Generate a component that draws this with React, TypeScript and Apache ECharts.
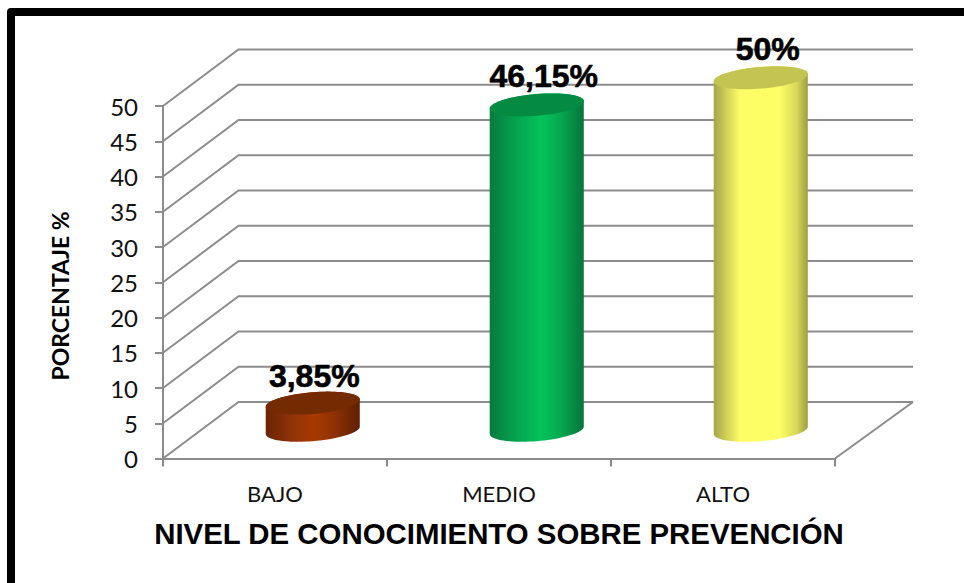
import React, { useEffect, useRef } from "react";
import * as echarts from "echarts";

const categories = ["BAJO", "MEDIO", "ALTO"];
const percentages = [3.85, 46.15, 50];
const valueLabels = ["3,85%", "46,15%", "50%"];
const yTicks = [0, 5, 10, 15, 20, 25, 30, 35, 40, 45, 50];
const xTitle = "NIVEL DE CONOCIMIENTO SOBRE PREVENCIÓN";
const yTitle = "PORCENTAJE %";

const sideStops = [
  [[0, "#6a2403"], [0.3, "#93340a"], [0.5, "#a83a00"], [0.72, "#8f3204"], [1, "#5e2002"]],
  [[0, "#067a3e"], [0.3, "#05a650"], [0.55, "#04c25a"], [0.75, "#05a850"], [1, "#06753b"]],
  [[0, "#a6a64a"], [0.28, "#fdfd66"], [0.7, "#fdfd66"], [0.88, "#d8d85a"], [1, "#9c9c42"]],
];
const topColors = ["#742b02", "#058a42", "#c4c452"];
const labelNudge = [[1.5, -11], [7, -13], [7, -13]];

const GRID_COLOR = "#8c8c8c";
const LINE_WIDTH = 2;
const DEPTH_X = 75.5;
const DEPTH_Y = -56.5;
const RIGHT_DEPTH_X = 78;
const RX = 44.5;
const VX = 15.2;
const VY = -11.5;

function ellipseArc(cx: number, cy: number, from: number, to: number, n: number) {
  const pts: number[][] = [];
  for (let i = 0; i <= n; i++) {
    const t = from + ((to - from) * i) / n;
    pts.push([cx + RX * Math.cos(t) + VX * Math.sin(t), cy + VY * Math.sin(t)]);
  }
  return pts;
}

function renderWall(params: any, api: any) {
  const cs = params.coordSys;
  const y = api.coord([0, api.value(1)])[1];
  const x0 = cs.x;
  const x1 = cs.x + cs.width;
  const children: any[] = [
    {
      type: "polyline",
      shape: { points: [[x0, y], [x0 + DEPTH_X, y + DEPTH_Y], [x1 + RIGHT_DEPTH_X, y + DEPTH_Y]] },
      style: { stroke: GRID_COLOR, lineWidth: LINE_WIDTH, fill: "none" },
    },
  ];
  if (api.value(1) === 0) {
    children.push({
      type: "line",
      shape: { x1: x1, y1: y, x2: x1 + RIGHT_DEPTH_X, y2: y + DEPTH_Y },
      style: { stroke: GRID_COLOR, lineWidth: LINE_WIDTH },
    });
  }
  return { type: "group", children };
}

function renderCylinder(params: any, api: any) {
  const i = api.value(0);
  const top = api.coord([i, api.value(1)]);
  const base = api.coord([i, 0]);
  const cx = top[0] + DEPTH_X / 2;
  const cyTop = top[1] + DEPTH_Y / 2;
  const cyBase = base[1] + DEPTH_Y / 2;
  const t0 = Math.atan2(VX, RX);
  const lower = ellipseArc(cx, cyBase, t0, t0 - Math.PI, 40);
  const lid = ellipseArc(cx, cyTop, 0, Math.PI * 2, 72);
  const side = [...lower, ...ellipseArc(cx, cyTop, t0 - Math.PI, t0 - Math.PI * 2, 40)];
  const stops = sideStops[i].map(([offset, color]) => ({ offset, color }));
  return {
    type: "group",
    children: [
      {
        type: "polygon",
        shape: { points: side },
        style: { fill: new echarts.graphic.LinearGradient(0, 0, 1, 0, stops as any) },
      },
      { type: "polygon", shape: { points: lid }, style: { fill: topColors[i] } },
      {
        type: "text",
        x: cx + labelNudge[i][0],
        y: cyTop + labelNudge[i][1],
        style: {
          text: valueLabels[i],
          fontFamily: "Liberation Sans",
          fontWeight: "bold",
          fontSize: 32,
          fill: "#000000",
          stroke: "#000000",
          lineWidth: 0.6,
          textAlign: "center",
          textVerticalAlign: "bottom",
        },
      },
    ],
  };
}

export default function App() {
  const ref = useRef<HTMLDivElement>(null);
  useEffect(() => {
    const chart = echarts.init(ref.current!, null, { renderer: "svg" });
    chart.setOption({
      animation: false,
      backgroundColor: "#ffffff",
      grid: { left: 163, top: 106, width: 672, height: 352.5 },
      graphic: [
        {
          type: "polyline",
          silent: true,
          z: 10,
          shape: { points: [[11, 590], [11, 12], [970, 12]] },
          style: { stroke: "#000000", lineWidth: 8, fill: "none", lineJoin: "round" },
        },
        {
          type: "text",
          silent: true,
          z: 10,
          x: 60,
          y: 296,
          rotation: Math.PI / 2,
          style: {
            text: yTitle,
            fontFamily: "Lato",
            fontWeight: "bold",
            fontSize: 23,
            fill: "#000000",
            textAlign: "center",
            textVerticalAlign: "middle",
          },
        },
      ],
      xAxis: {
        type: "category",
        data: categories,
        axisLine: { lineStyle: { color: GRID_COLOR, width: LINE_WIDTH } },
        axisTick: { show: true, length: 8, lineStyle: { color: GRID_COLOR, width: LINE_WIDTH } },
        axisLabel: { color: "#111111", fontFamily: "Lato", fontSize: 22, margin: 24 },
        name: xTitle,
        nameLocation: "middle",
        nameGap: 60,
        nameTextStyle: { color: "#000000", fontFamily: "Liberation Sans", fontWeight: "bold", fontSize: 29.4 },
      },
      yAxis: {
        type: "value",
        min: 0,
        max: 50,
        interval: 5,
        splitLine: { show: false },
        axisLine: { show: true, lineStyle: { color: GRID_COLOR, width: LINE_WIDTH } },
        axisTick: { show: true, length: 8, lineStyle: { color: GRID_COLOR, width: LINE_WIDTH } },
        axisLabel: { color: "#111111", fontFamily: "Lato", fontSize: 24, margin: 25, padding: [4, 0, 0, 0] },
      },
      series: [
        {
          type: "custom",
          silent: true,
          z: 1,
          renderItem: renderWall,
          data: yTicks.map((v) => [0, v]),
        },
        {
          type: "custom",
          silent: true,
          z: 3,
          renderItem: renderCylinder,
          data: percentages.map((v, i) => [i, v]),
        },
      ],
    });
    return () => chart.dispose();
  }, []);
  return (
    <div
      ref={ref}
      style={{ position: "absolute", left: 0, top: 0, width: 964, height: 583 }}
    />
  );
}
